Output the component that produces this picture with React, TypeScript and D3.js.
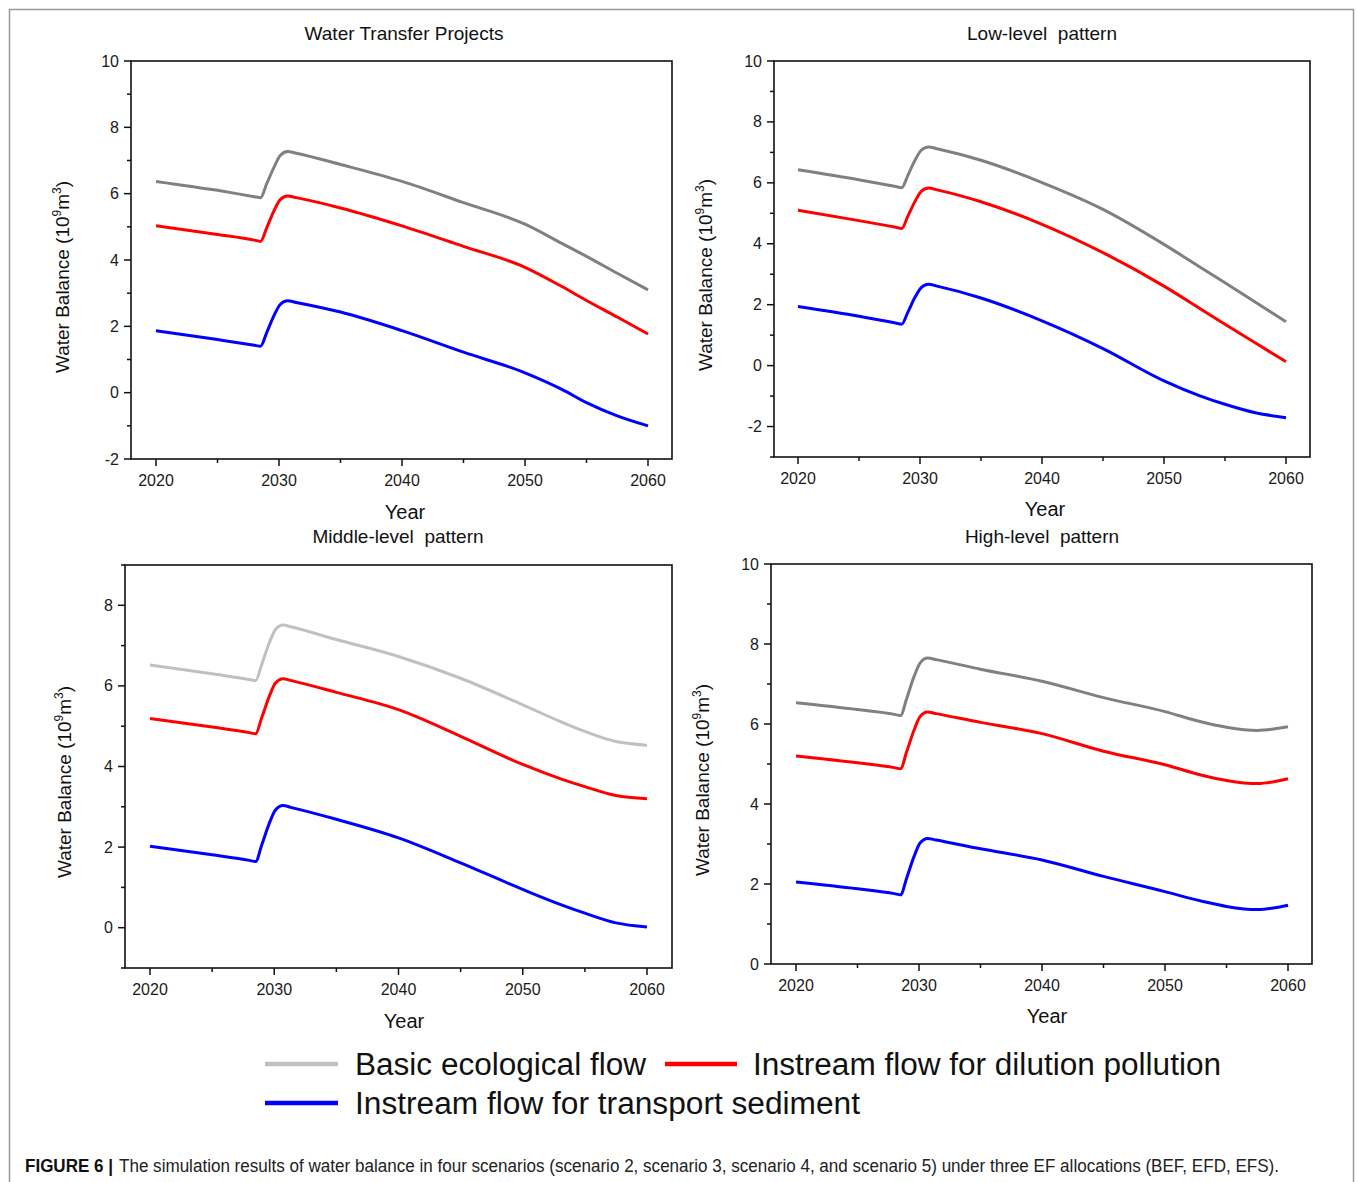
import React from 'react';
import * as d3 from 'd3';

// ---------- DATA ----------
const YEARS = [2020, 2025, 2028.0, 2028.5, 2029.0, 2029.6, 2030.1, 2030.7, 2031.4, 2035, 2040, 2045, 2050, 2053, 2055, 2057.5, 2060];

// Water Transfer Projects
const WTP_BEF = [6.37, 6.1, 5.91, 5.88, 6.3, 6.8, 7.15, 7.27, 7.22, 6.88, 6.37, 5.73, 5.08, 4.5, 4.11, 3.6, 3.1];
const WTP_EFD = [5.03, 4.77, 4.6, 4.56, 4.97, 5.49, 5.82, 5.93, 5.88, 5.57, 5.03, 4.41, 3.78, 3.2, 2.78, 2.28, 1.77];
const WTP_EFS = [1.87, 1.6, 1.43, 1.4, 1.81, 2.33, 2.66, 2.77, 2.72, 2.43, 1.87, 1.22, 0.6, 0.1, -0.3, -0.7, -1.0];

// Low-level pattern
const LOW_BEF = [6.43, 6.1, 5.88, 5.84, 6.24, 6.75, 7.07, 7.18, 7.12, 6.74, 6.01, 5.13, 3.98, 3.22, 2.72, 2.08, 1.44];
const LOW_EFD = [5.1, 4.76, 4.54, 4.5, 4.9, 5.4, 5.72, 5.83, 5.77, 5.38, 4.64, 3.71, 2.61, 1.86, 1.36, 0.74, 0.13];
const LOW_EFS = [1.94, 1.62, 1.4, 1.36, 1.75, 2.25, 2.56, 2.67, 2.61, 2.22, 1.47, 0.56, -0.5, -1.0, -1.27, -1.55, -1.71];

// Middle-level pattern
const MID_BEF = [6.52, 6.3, 6.16, 6.13, 6.54, 7.07, 7.4, 7.51, 7.46, 7.15, 6.73, 6.19, 5.53, 5.12, 4.87, 4.62, 4.53];
const MID_EFD = [5.19, 4.98, 4.84, 4.81, 5.22, 5.74, 6.07, 6.18, 6.13, 5.84, 5.41, 4.75, 4.05, 3.7, 3.5, 3.28, 3.2];
const MID_EFS = [2.02, 1.81, 1.67, 1.64, 2.06, 2.59, 2.92, 3.03, 2.98, 2.69, 2.23, 1.61, 0.95, 0.58, 0.36, 0.12, 0.02];

// High-level pattern
const HIGH_BEF = [6.53, 6.36, 6.24, 6.21, 6.64, 7.19, 7.53, 7.65, 7.61, 7.37, 7.07, 6.66, 6.31, 6.05, 5.92, 5.84, 5.93];
const HIGH_EFD = [5.2, 5.03, 4.91, 4.88, 5.31, 5.85, 6.19, 6.3, 6.26, 6.04, 5.76, 5.32, 4.98, 4.72, 4.59, 4.51, 4.63];
const HIGH_EFS = [2.05, 1.88, 1.76, 1.73, 2.15, 2.69, 3.03, 3.14, 3.1, 2.88, 2.6, 2.19, 1.81, 1.57, 1.44, 1.36, 1.47];

const X_TICKS = [2020, 2030, 2040, 2050, 2060];
const X_MINOR = [2025, 2035, 2045, 2055];
const Y_TICKS_WTP = [-2, 0, 2, 4, 6, 8, 10];
const Y_TICKS_LOW = [-2, 0, 2, 4, 6, 8, 10];
const Y_TICKS_MID = [0, 2, 4, 6, 8];
const Y_TICKS_HIGH = [0, 2, 4, 6, 8, 10];

const TITLES = ['Water Transfer Projects', 'Low-level  pattern', 'Middle-level  pattern', 'High-level  pattern'];
const LEGEND_LABELS = ['Basic ecological flow', 'Instream flow for dilution pollution', 'Instream flow for transport sediment'];
const CAPTION_BOLD = 'FIGURE 6 |';
const CAPTION_TEXT = 'The simulation results of water balance in four scenarios (scenario 2, scenario 3, scenario 4, and scenario 5) under three EF allocations (BEF, EFD, EFS).';

// ---------- LAYOUT ----------
const FONT = 'Liberation Sans, Arial, Helvetica, sans-serif';
const RED = '#ff0000';
const BLUE = '#0000ff';

type Panel = {
  title: string;
  bef: number[]; efd: number[]; efs: number[];
  befColor: string;
  yDomain: [number, number];
  yTicks: number[];
  frame: { l: number; r: number; t: number; b: number };
  xr: [number, number];
  titlePos: [number, number];
  yearPos: [number, number];
  yLabelPos: [number, number];
};

const PANELS: Panel[] = [
  {
    title: TITLES[0], bef: WTP_BEF, efd: WTP_EFD, efs: WTP_EFS, befColor: '#808080',
    yDomain: [-2, 10], yTicks: Y_TICKS_WTP,
    frame: { l: 131, r: 672, t: 61, b: 459 }, xr: [156, 648],
    titlePos: [404, 40], yearPos: [405, 519], yLabelPos: [69, 277],
  },
  {
    title: TITLES[1], bef: LOW_BEF, efd: LOW_EFD, efs: LOW_EFS, befColor: '#808080',
    yDomain: [-3, 10], yTicks: Y_TICKS_LOW,
    frame: { l: 774, r: 1310, t: 61, b: 457 }, xr: [798, 1286],
    titlePos: [1042, 40], yearPos: [1045, 516], yLabelPos: [712, 275],
  },
  {
    title: TITLES[2], bef: MID_BEF, efd: MID_EFD, efs: MID_EFS, befColor: '#c0c0c0',
    yDomain: [-1, 9], yTicks: Y_TICKS_MID,
    frame: { l: 125, r: 672, t: 565, b: 968 }, xr: [150, 647],
    titlePos: [398, 543], yearPos: [404, 1028], yLabelPos: [71, 782],
  },
  {
    title: TITLES[3], bef: HIGH_BEF, efd: HIGH_EFD, efs: HIGH_EFS, befColor: '#808080',
    yDomain: [0, 10], yTicks: Y_TICKS_HIGH,
    frame: { l: 771, r: 1312, t: 564, b: 964 }, xr: [796, 1288],
    titlePos: [1042, 543], yearPos: [1047, 1023], yLabelPos: [709, 780],
  },
];

function PanelView({ p }: { p: Panel }) {
  const x = d3.scaleLinear().domain([2020, 2060]).range(p.xr);
  const y = d3.scaleLinear().domain(p.yDomain).range([p.frame.b, p.frame.t]);
  const line = d3.line<number>()
    .x((_, i) => x(YEARS[i]))
    .y((d) => y(d))
    .curve(d3.curveMonotoneX);
  const minorY = d3.range(Math.ceil(p.yDomain[0]), p.yDomain[1] + 0.001, 1).filter((v) => !p.yTicks.includes(v));
  const { l, r, t, b } = p.frame;
  return (
    <g>
      <text x={p.titlePos[0]} y={p.titlePos[1]} textAnchor="middle" fontSize={19} fill="#111" fontFamily={FONT} style={{ whiteSpace: 'pre' }}>{p.title}</text>
      {/* series */}
      <path d={line(p.bef) || ''} fill="none" stroke={p.befColor} strokeWidth={3} strokeLinejoin="round" />
      <path d={line(p.efd) || ''} fill="none" stroke={RED} strokeWidth={3} strokeLinejoin="round" />
      <path d={line(p.efs) || ''} fill="none" stroke={BLUE} strokeWidth={3} strokeLinejoin="round" />
      {/* frame */}
      <rect x={l} y={t} width={r - l} height={b - t} fill="none" stroke="#111" strokeWidth={1.6} />
      {/* x ticks */}
      {X_TICKS.map((v) => (
        <g key={'xt' + v}>
          <line x1={x(v)} x2={x(v)} y1={b} y2={b + 7} stroke="#111" strokeWidth={1.5} />
          <text x={x(v)} y={b + 27} textAnchor="middle" fontSize={16} fill="#1a1a1a" fontFamily={FONT}>{v}</text>
        </g>
      ))}
      {X_MINOR.map((v) => (
        <line key={'xm' + v} x1={x(v)} x2={x(v)} y1={b} y2={b + 4} stroke="#111" strokeWidth={1.5} />
      ))}
      {/* y ticks */}
      {p.yTicks.map((v) => (
        <g key={'yt' + v}>
          <line x1={l - 7} x2={l} y1={y(v)} y2={y(v)} stroke="#111" strokeWidth={1.5} />
          <text x={l - 12} y={y(v) + 5.5} textAnchor="end" fontSize={16} fill="#1a1a1a" fontFamily={FONT}>{v}</text>
        </g>
      ))}
      {minorY.map((v) => (
        <line key={'ym' + v} x1={l - 4} x2={l} y1={y(v)} y2={y(v)} stroke="#111" strokeWidth={1.5} />
      ))}
      {/* axis labels */}
      <text x={p.yearPos[0]} y={p.yearPos[1]} textAnchor="middle" fontSize={20} fill="#111" fontFamily={FONT}>Year</text>
      <text transform={`translate(${p.yLabelPos[0]},${p.yLabelPos[1]}) rotate(-90)`} textAnchor="middle" fontSize={19} fill="#111" fontFamily={FONT}>
        Water Balance (10<tspan fontSize={12} dy={-8}>9</tspan><tspan dy={8}>m</tspan><tspan fontSize={12} dy={-8}>3</tspan><tspan dy={8}>)</tspan>
      </text>
    </g>
  );
}

export default function App() {
  return (
    <svg width={1357} height={1182} style={{ position: 'absolute', left: 0, top: 0, background: '#fff' }}>
      <rect x={0} y={0} width={1357} height={1182} fill="#fff" />
      <rect x={9.5} y={9.5} width={1344} height={1200} fill="none" stroke="#999" strokeWidth={1.5} />
      {PANELS.map((p, i) => <PanelView key={i} p={p} />)}
      {/* legend */}
      <line x1={265} x2={338} y1={1064} y2={1064} stroke="#c0c0c0" strokeWidth={4.5} />
      <text x={355} y={1075} fontSize={31} fill="#111" fontFamily={FONT} textLength={291} lengthAdjust="spacingAndGlyphs">{LEGEND_LABELS[0]}</text>
      <line x1={665} x2={737} y1={1064} y2={1064} stroke={RED} strokeWidth={4.5} />
      <text x={753} y={1075} fontSize={31} fill="#111" fontFamily={FONT} textLength={468} lengthAdjust="spacingAndGlyphs">{LEGEND_LABELS[1]}</text>
      <line x1={265} x2={338} y1={1103} y2={1103} stroke={BLUE} strokeWidth={4.5} />
      <text x={355} y={1114} fontSize={31} fill="#111" fontFamily={FONT} textLength={505} lengthAdjust="spacingAndGlyphs">{LEGEND_LABELS[2]}</text>
      {/* caption */}
      <text x={25} y={1172} fontSize={17.5} fontWeight="bold" fill="#111" fontFamily={FONT} textLength={88} lengthAdjust="spacingAndGlyphs">{CAPTION_BOLD}</text>
      <text x={119} y={1172} fontSize={17.5} fill="#222" fontFamily={FONT} textLength={1160} lengthAdjust="spacingAndGlyphs">{CAPTION_TEXT}</text>
    </svg>
  );
}
